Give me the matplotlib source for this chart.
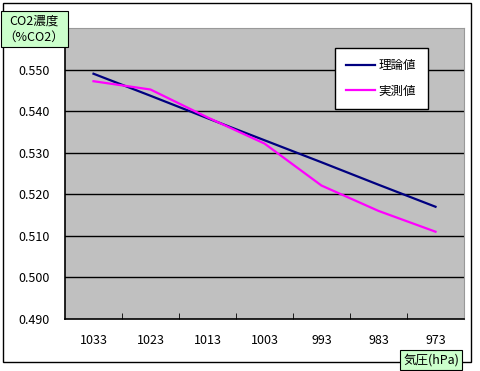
import matplotlib.pyplot as plt
import numpy as np
from matplotlib.patches import Rectangle

plt.rcParams['font.family'] = ['Noto Sans CJK JP', 'DejaVu Sans']

# Data
pressure = ['1033', '1023', '1013', '1003', '993', '983', '973']
theory = [0.5490, 0.5437, 0.5383, 0.5330, 0.5277, 0.5223, 0.5170]
measured = [0.5472, 0.5452, 0.5385, 0.5322, 0.5221, 0.5160, 0.5110]
yticks = [0.490, 0.500, 0.510, 0.520, 0.530, 0.540, 0.550]

W, H = 480, 371
fs = 9
fig = plt.figure(figsize=(4.8, 3.71), dpi=100)
fig.patch.set_facecolor('white')

# outer frame
fig.patches.append(Rectangle((3 / W, 1 - 362 / H), 468 / W, 359 / H,
                             transform=fig.transFigure, fill=False,
                             edgecolor='black', linewidth=1))

ax = fig.add_axes([65 / W, 1 - 319 / H, 399 / W, 291 / H])
ax.set_facecolor('#c0c0c0')

x = np.arange(len(pressure))
ax.plot(x, theory, color='#000080', linewidth=1.6, label='理論値')
ax.plot(x, measured, color='#ff00ff', linewidth=1.6, label='実測値')

ax.set_xlim(-0.5, len(pressure) - 0.5)
ax.set_ylim(0.490, 0.560)
ax.set_yticks(yticks)
ax.set_yticklabels([f'{v:.3f}' for v in yticks], fontsize=fs)
ax.set_xticks(x)
ax.set_xticklabels(pressure, fontsize=fs)
ax.set_xticks(np.arange(0.5, len(pressure) - 0.5), minor=True)
ax.tick_params(axis='x', which='major', length=0, pad=11)
ax.tick_params(axis='x', which='minor', direction='in', length=4, color='black')
ax.tick_params(axis='y', length=0, pad=11)

for v in yticks[1:]:
    ax.axhline(v, color='black', linewidth=1, zorder=0.5)

for s in ['top', 'right']:
    ax.spines[s].set_color('#999999')
for s in ['left', 'bottom']:
    ax.spines[s].set_color('black')
    ax.spines[s].set_linewidth(1.2)

leg = ax.legend(loc='upper left', bbox_to_anchor=((335 - 65) / 399, 1 - (48 - 28) / 291),
                fontsize=fs, frameon=True, fancybox=False, handlelength=2.3,
                labelspacing=1.0, borderpad=0.9, handletextpad=0.3, borderaxespad=0)
leg.get_frame().set_edgecolor('black')
leg.get_frame().set_facecolor('white')
leg.get_frame().set_alpha(1)

box = dict(boxstyle='square,pad=0.25', facecolor='#ccffcc', edgecolor='black', linewidth=0.8)
fig.text(34 / W, 1 - 29 / H, 'CO2濃度\n（%CO2）', fontsize=fs, ha='center', va='center',
         linespacing=1.3, bbox=box)
fig.text(431 / W, 1 - 360 / H, '気圧(hPa)', fontsize=fs, ha='center', va='center', bbox=box)

fig.savefig('out.png', dpi=100)
